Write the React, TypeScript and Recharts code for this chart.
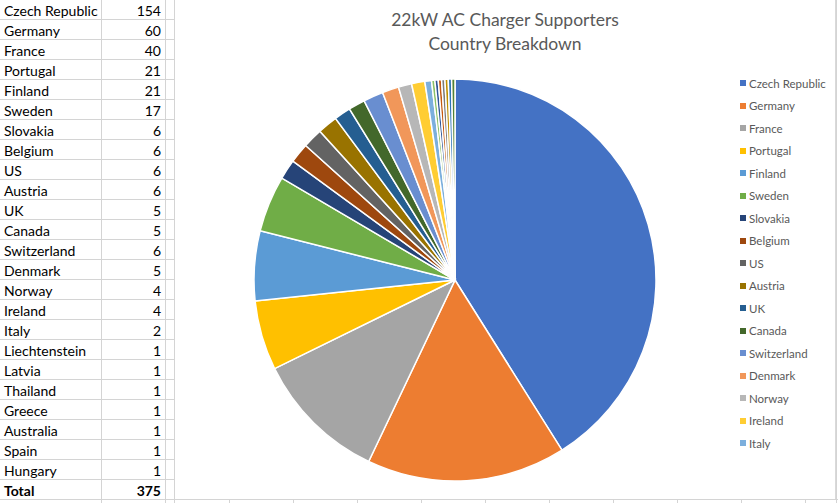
import { PieChart, Pie, Cell, Legend } from "recharts";

const countries = [
  "Czech Republic", "Germany", "France", "Portugal", "Finland", "Sweden",
  "Slovakia", "Belgium", "US", "Austria", "UK", "Canada", "Switzerland",
  "Denmark", "Norway", "Ireland", "Italy", "Liechtenstein", "Latvia",
  "Thailand", "Greece", "Australia", "Spain", "Hungary",
];
const supporters = [
  154, 60, 40, 21, 21, 17, 6, 6, 6, 6, 5, 5, 6, 5, 4, 4, 2, 1, 1, 1, 1, 1, 1, 1,
];
const total = 375;
const colors = [
  "#4472C4", "#ED7D31", "#A5A5A5", "#FFC000", "#5B9BD5", "#70AD47",
  "#264478", "#9E480E", "#636363", "#997300", "#255E91", "#43682B",
  "#698ED0", "#F1975A", "#B7B7B7", "#FFCD33", "#7CAFDD", "#8CC168",
  "#2F5597", "#C55A11", "#7B7B7B", "#BF9000", "#2E75B6", "#548235",
];
const legendShown = 17; // Excel cut the legend off after Italy

const data = countries.map((name, i) => ({ name, value: supporters[i] }));

const ROW = 20;
const grid = "#D4D4D4";

// legend drawn from the arrays in data order (recharts would sort it by name)
const LegendList = () => (
  <div style={{ fontFamily: "Lato, sans-serif", fontSize: 11.5, color: "#595959" }}>
    {countries.slice(0, legendShown).map((name, i) => (
      <div key={name} style={{ height: 22.5, display: "flex", alignItems: "center" }}>
        <span style={{ width: 6, height: 6, background: colors[i], marginRight: 3 }} />
        <span>{name}</span>
      </div>
    ))}
  </div>
);

export default function App() {
  const rows = [...data.map((d) => [d.name, String(d.value)]), ["Total", String(total)]];
  const colLines = [229, 293, 357, 421, 485, 549, 613, 677, 741, 805];
  return (
    <div style={{ position: "fixed", left: 0, top: 0, width: 838, height: 503, overflow: "hidden", background: "#fff" }}>
      {/* sheet gridlines */}
      <svg width={838} height={503} style={{ position: "absolute", left: 0, top: 0 }}>
        {rows.map((_, i) => (
          <line key={"h" + i} x1={0} x2={174} y1={(i + 1) * ROW - 0.5} y2={(i + 1) * ROW - 0.5} stroke={grid} />
        ))}
        <line x1={0} x2={838} y1={499.5} y2={499.5} stroke={grid} />
        {[101, 165, 174].map((x) => (
          <line key={"v" + x} x1={x + 0.5} x2={x + 0.5} y1={0} y2={503} stroke={grid} />
        ))}
        {colLines.map((x) => (
          <line key={"c" + x} x1={x + 0.5} x2={x + 0.5} y1={0} y2={503} stroke={grid} />
        ))}
        <line x1={836.5} x2={836.5} y1={0} y2={503} stroke={grid} />
      </svg>
      {/* table */}
      {rows.map((r, i) => {
        const bold = r[0] === "Total";
        return (
          <div key={r[0]} style={{ position: "absolute", top: i * ROW + 1, left: 0, height: ROW, width: 165, fontFamily: "Lato, sans-serif", fontSize: 14, fontWeight: bold ? 700 : 400, color: "#000", lineHeight: ROW + "px" }}>
            <span style={{ position: "absolute", left: 4, top: 0 }}>{r[0]}</span>
            <span style={{ position: "absolute", right: 4, top: 0 }}>{r[1]}</span>
          </div>
        );
      })}
      {/* chart area */}
      <div style={{ position: "absolute", left: 175, top: 0, width: 660, height: 499, background: "#fff", borderRight: "1px solid #D9D9D9" }}>
        <div style={{ position: "absolute", left: 0, width: 660, top: 8, textAlign: "center", fontFamily: "Lato, sans-serif", fontSize: 17.5, color: "#595959", lineHeight: "24px" }}>
          22kW AC Charger Supporters
          <br />
          Country Breakdown
        </div>
        <PieChart width={660} height={499} margin={{ top: 0, right: 0, bottom: 0, left: 0 }}>
          <Pie
            data={data}
            dataKey="value"
            nameKey="name"
            cx={280}
            cy={280}
            outerRadius={201}
            startAngle={90}
            endAngle={-270}
            stroke="#fff"
            strokeWidth={1.5}
            isAnimationActive={false}
          >
            {data.map((d, i) => (
              <Cell key={d.name} fill={colors[i]} />
            ))}
          </Pie>
          <Legend
            layout="vertical"
            align="right"
            verticalAlign="top"
            content={<LegendList />}
            wrapperStyle={{ left: 565, top: 72, width: 95, right: "auto" }}
          />
        </PieChart>
      </div>
    </div>
  );
}
